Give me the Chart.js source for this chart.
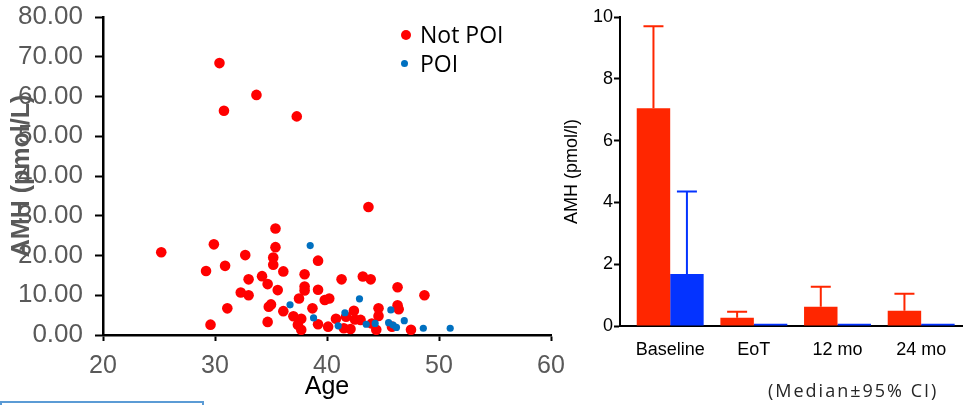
<!DOCTYPE html>
<html>
<head>
<meta charset="utf-8">
<script src="https://cdn.jsdelivr.net/npm/chart.js@4.4.1/dist/chart.umd.min.js"></script>
<style>
	body { margin: 0; background: #fff; width: 963px; height: 405px; overflow: hidden; position: relative; }
	#scatter { position: absolute; left: 0; top: 0; }
	#bars { position: absolute; left: 560px; top: 0; }
	.legenda { position: absolute; left: 400px; top: 20px; font-family: "Open Sans", sans-serif; font-size: 23px; color: #000; line-height: 29px; }
	.legenda div { position: relative; padding-left: 20px; }
	.legenda span { position: absolute; border-radius: 50%; }
	.nota { position: absolute; left: 768px; top: 378px; font-family: "Open Sans", sans-serif; font-size: 18px; letter-spacing: 2px; color: #262626; }
	.caixa { position: absolute; left: 0; top: 401px; width: 200px; height: 10px; border: 2px solid #5b9bd5; border-bottom: none; }
</style>
</head>
<body>
<canvas id="scatter" width="575" height="405"></canvas>
<canvas id="bars" width="403" height="405"></canvas>
<div class="legenda">
	<div><span style="left:1px;top:10px;width:10px;height:10px;background:#ff0000"></span>Not POI</div>
	<div><span style="left:1px;top:11px;width:7px;height:7px;background:#0070c0"></span>POI</div>
</div>
<div class="nota">(Median±95% CI)</div>
<div class="caixa"></div>
<script>
// idade x AMH
const idadeNaoPoi = [30.4, 33.7, 30.8, 37.3, 43.7, 25.2, 29.9, 32.7, 29.2, 30.9, 34.2, 33.0, 32.3, 33.0, 31.1, 29.6,
	35.4, 35.4, 35.2, 35.2, 39.2, 36.1, 38.0, 34.7, 35.6, 38.0, 38.0, 39.2, 41.3, 43.2, 43.9, 37.5, 39.8, 40.2,
	34.8, 35.0, 36.1, 38.7, 37.0, 37.7, 34.7, 37.4, 37.7, 39.2, 40.1, 40.8, 41.7, 42.4, 42.5, 43.0, 42.1, 41.5,
	44.0, 46.3, 48.7, 46.3, 46.4, 44.6, 44.6, 45.8, 44.4, 47.5];
const amhNaoPoi = [68.4, 60.4, 56.4, 55.0, 32.2, 20.8, 22.8, 20.1, 16.1, 17.4, 14.8, 14.0, 10.7, 10.0, 6.7, 2.6,
	26.8, 22.1, 19.5, 17.7, 18.7, 16.0, 15.3, 12.8, 11.3, 12.2, 11.2, 11.4, 14.0, 14.7, 14.0, 9.2, 8.8, 9.2,
	7.1, 7.7, 6.0, 6.7, 4.7, 4.1, 3.3, 2.6, 1.3, 2.7, 2.1, 4.1, 4.6, 6.1, 3.9, 3.8, 1.5, 1.7,
	2.9, 12.0, 10.0, 7.5, 6.5, 6.7, 4.8, 2.1, 1.3, 1.3];
const idadePoi = [38.5, 42.9, 36.7, 38.8, 41.0, 41.6, 43.5, 45.7, 46.9, 44.3, 45.5, 45.9, 46.2, 48.6, 51.0];
const amhPoi = [22.5, 9.1, 7.6, 4.3, 2.3, 5.6, 2.7, 6.3, 3.6, 2.9, 3.1, 2.5, 1.9, 1.7, 1.7];

// medianas e limite superior do IC 95%
const momentos = ["Baseline", "EoT", "12 mo", "24 mo"];
const medianaNaoPoi = [7.05, 0.27, 0.62, 0.49];
const icNaoPoi = [9.7, 0.46, 1.27, 1.04];
const medianaPoi = [1.68, 0.07, 0.07, 0.07];
const icPoi = [4.35, null, null, null];

const cinza = "#595959";
const fonte = "'Liberation Sans', Arial, sans-serif";

function pontos(xs, ys) {
	return xs.map((x, i) => ({ x: x, y: ys[i] }));
}

// tira o espaço extra que o Chart.js reserva para os rótulos das pontas
function semFolga(s) {
	s.paddingTop = 0;
	s.paddingBottom = 0;
	s.paddingLeft = 0;
	s.paddingRight = 0;
}

new Chart(document.querySelector("#scatter"), {
	type: "scatter",
	data: {
		datasets: [
			{
				label: "POI",
				data: pontos(idadePoi, amhPoi),
				backgroundColor: "#0070c0",
				borderWidth: 0,
				pointRadius: 3.6,
				order: 0,
			},
			{
				label: "Not POI",
				data: pontos(idadeNaoPoi, amhNaoPoi),
				backgroundColor: "#ff0000",
				borderWidth: 0,
				pointRadius: 5.3,
				order: 1,
			},
		],
	},
	options: {
		responsive: false,
		animation: false,
		layout: { padding: { top: 17, right: 24, left: 0, bottom: 0 } },
		plugins: { legend: { display: false }, tooltip: { enabled: false } },
		scales: {
			x: {
				type: "linear",
				min: 20,
				max: 60,
				ticks: { stepSize: 10, color: cinza, font: { family: fonte, size: 25 }, padding: 10 },
				grid: { drawOnChartArea: false, tickLength: 6, tickWidth: 2, color: "#000" },
				border: { color: "#000", width: 2.5 },
				title: { display: true, text: "Age", color: "#000", font: { family: fonte, size: 25 }, padding: { top: 0, bottom: 3 } },
				afterFit: (s) => { s.height = 70; semFolga(s); },
			},
			y: {
				min: 0,
				max: 80,
				ticks: { stepSize: 10, color: cinza, font: { family: fonte, size: 26 }, padding: 12, callback: (v) => v.toFixed(2) },
				grid: { drawOnChartArea: false, tickLength: 8, tickWidth: 2, color: "#000" },
				border: { color: "#000", width: 2.5 },
				title: { display: true, text: "AMH (pmol/L)", color: cinza, font: { family: fonte, size: 25, weight: "bold" }, padding: { top: 7, bottom: 0 } },
				afterFit: (s) => { s.width = 103; semFolga(s); },
			},
		},
	},
});

const barrasErro = {
	id: "barrasErro",
	afterDatasetsDraw(chart) {
		const ctx = chart.ctx;
		const y = chart.scales.y;
		chart.data.datasets.forEach((ds, i) => {
			chart.getDatasetMeta(i).data.forEach((bar, j) => {
				const topo = ds.ic[j];
				if (topo == null) return;
				const yTopo = y.getPixelForValue(topo);
				ctx.save();
				ctx.strokeStyle = ds.backgroundColor;
				ctx.lineWidth = 2;
				ctx.beginPath();
				ctx.moveTo(bar.x, bar.y);
				ctx.lineTo(bar.x, yTopo);
				ctx.moveTo(bar.x - 10, yTopo);
				ctx.lineTo(bar.x + 10, yTopo);
				ctx.stroke();
				ctx.restore();
			});
		});
	},
};

new Chart(document.querySelector("#bars"), {
	type: "bar",
	data: {
		datasets: [
			{
				label: "Not POI",
				data: pontos([0, 1, 2, 3], medianaNaoPoi),
				ic: icNaoPoi,
				backgroundColor: "#ff2600",
				categoryPercentage: 0.8,
				barPercentage: 1.0,
			},
			{
				label: "POI",
				data: pontos([0, 1, 2, 3], medianaPoi),
				ic: icPoi,
				backgroundColor: "#0433ff",
				categoryPercentage: 0.8,
				barPercentage: 1.0,
			},
		],
	},
	options: {
		responsive: false,
		animation: false,
		layout: { padding: { top: 17, right: 0, left: 0, bottom: 0 } },
		plugins: { legend: { display: false }, tooltip: { enabled: false } },
		scales: {
			x: {
				type: "linear",
				offset: false,
				min: -0.6,
				max: 3.5,
				afterBuildTicks: (s) => { s.ticks = [0, 1, 2, 3].map((v) => ({ value: v })); },
				ticks: { color: "#000", font: { family: fonte, size: 18 }, padding: 13, callback: (v) => momentos[v] },
				grid: { display: false, drawTicks: false, offset: false },
				border: { color: "#000", width: 2 },
				afterFit: (s) => { s.height = 79; semFolga(s); },
			},
			y: {
				min: 0,
				max: 10,
				ticks: { stepSize: 2, color: "#000", font: { family: fonte, size: 18 }, padding: 1 },
				grid: { drawOnChartArea: false, tickLength: 6, tickWidth: 2, color: "#000" },
				border: { color: "#000", width: 2 },
				title: { display: true, text: "AMH (pmol/l)", color: "#000", font: { family: fonte, size: 18 }, padding: { top: 1, bottom: 0 } },
				afterFit: (s) => { s.width = 60; semFolga(s); },
			},
		},
	},
	plugins: [barrasErro],
});
</script>
</body>
</html>
